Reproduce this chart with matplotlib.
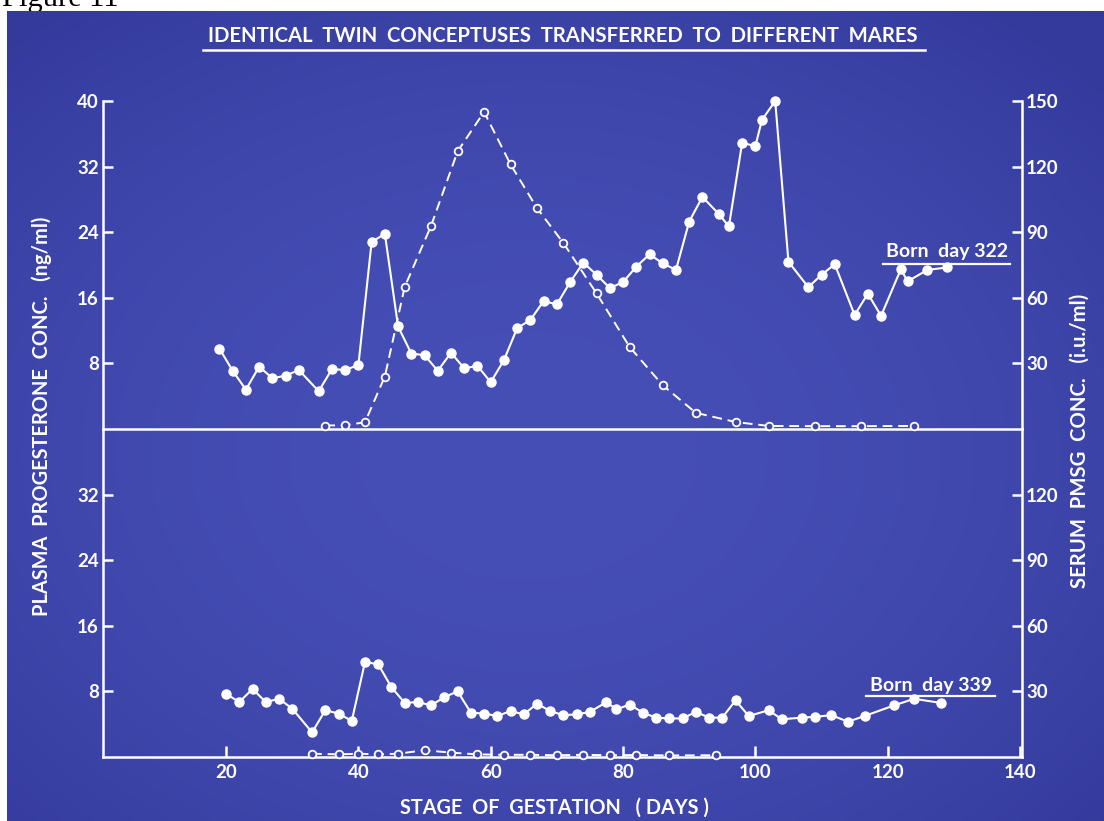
import numpy as np
import matplotlib as mpl
import matplotlib.pyplot as plt
from matplotlib.lines import Line2D

mpl.rcParams.update({
    "font.family": ["Lato", "DejaVu Sans"],
    "font.weight": "bold",
    "axes.linewidth": 1.8,
    "xtick.color": "white",
    "ytick.color": "white",
    "xtick.labelsize": 13.5,
    "ytick.labelsize": 13.5,
})

W, H = 1104, 821
SLIDE = (64, 72, 172)

# mare carrying twin A (born day 322)
top_prog_day = [19, 21, 23, 25, 27, 29, 31, 34, 36, 38, 40, 42, 44, 46, 48, 50, 52, 54, 56, 58,
                60, 62, 64, 66, 68, 70, 72, 74, 76, 78, 80, 82, 84, 86, 88, 90, 92, 94.5, 96, 98,
                100, 101, 103, 105, 108, 110, 112, 115, 117, 119, 122, 123, 126, 129]
top_prog = [9.8, 7.1, 4.8, 7.6, 6.2, 6.5, 7.2, 4.6, 7.3, 7.2, 7.8, 22.8, 23.8, 12.5, 9.2, 9.0,
            7.1, 9.3, 7.4, 7.7, 5.7, 8.4, 12.3, 13.3, 15.6, 15.2, 17.9, 20.3, 18.8, 17.2, 17.9,
            19.8, 21.3, 20.2, 19.4, 25.3, 28.3, 26.2, 24.7, 34.9, 34.5, 37.7, 40.0, 20.4, 17.3,
            18.8, 20.1, 13.9, 16.5, 13.8, 19.5, 18.0, 19.4, 19.7]
top_pmsg_day = [35, 38, 41, 44, 47, 51, 55, 59, 63, 67, 71, 76, 81, 86, 91, 97, 102, 109, 116, 124]
top_pmsg = [1.6, 1.7, 3.1, 24, 65, 93, 127, 145, 121, 101, 85, 62, 37.5, 20, 7.4, 3.2, 1.4, 1.3,
            1.3, 1.4]

# mare carrying twin B (born day 339)
bot_prog_day = [20, 22, 24, 26, 28, 30, 33, 35, 37, 39, 41, 43, 45, 47, 49, 51, 53, 55, 57, 59,
                61, 63, 65, 67, 69, 71, 73, 75, 77.5, 79, 81, 83, 85, 87, 89, 91, 93, 95, 97, 99,
                102, 104, 107, 109, 111.5, 114, 116.5, 121, 124, 128]
bot_prog = [7.7, 6.7, 8.3, 6.7, 7.1, 5.9, 3.0, 5.7, 5.3, 4.4, 11.6, 11.3, 8.5, 6.6, 6.7, 6.3,
            7.3, 8.0, 5.4, 5.3, 5.0, 5.6, 5.2, 6.5, 5.6, 5.1, 5.2, 5.5, 6.7, 5.8, 6.4, 5.4, 4.8,
            4.7, 4.7, 5.5, 4.8, 4.8, 6.9, 5.0, 5.7, 4.6, 4.8, 4.9, 5.1, 4.3, 5.0, 6.3, 7.1, 6.6]
bot_pmsg_day = [33, 37, 40, 43, 46, 50, 54, 58, 62, 66, 70, 74, 78, 82, 87, 94]
bot_pmsg = [1.5, 1.2, 1.5, 1.2, 1.5, 3.1, 2.0, 1.2, 1.0, 1.0, 0.8, 1.0, 0.8, 0.9, 0.7, 0.8]

prog_ticks = [8, 16, 24, 32, 40]
pmsg_ticks = [30, 60, 90, 120, 150]
day_ticks = [20, 40, 60, 80, 100, 120, 140]


def fx(x):
    return x / W


def fy(y):
    return 1 - y / H


fig = plt.figure(figsize=(W / 100, H / 100), dpi=100)
fig.patch.set_facecolor("white")

# caption of the page, its top runs off the sheet
fig.text(fx(2), fy(6), "Figure 11", family="Liberation Serif", fontsize=22,
         weight="normal", color="black", va="baseline", ha="left", zorder=-5)

# slide background, a little darker towards the corners
bg = fig.add_axes([fx(7), 0, 1 - fx(7), fy(11)], zorder=-1)
yy, xx = np.mgrid[-1:1:200j, -1:1:260j]
r2 = np.clip(((xx + 0.05) ** 2 + (yy - 0.1) ** 2) / 2, 0, 1)
center = np.array([70, 79, 182]) / 255
edge = np.array([52, 58, 156]) / 255
img = center[None, None, :] * (1 - r2[..., None]) + edge[None, None, :] * r2[..., None]
bg.imshow(img, aspect="auto", interpolation="bilinear")
bg.axis("off")

left, right = 103, 1022
ax_top = fig.add_axes([fx(left), fy(429), fx(right - left), 328 / H])
ax_bot = fig.add_axes([fx(left), fy(757), fx(right - left), 328 / H])

for ax, prog_day, prog, pmsg_day, pmsg, yt in [
        (ax_top, top_prog_day, top_prog, top_pmsg_day, top_pmsg, 5),
        (ax_bot, bot_prog_day, bot_prog, bot_pmsg_day, bot_pmsg, 4)]:
    axr = ax.twinx()
    for a in (ax, axr):
        a.set_facecolor("none")
        for s in a.spines.values():
            s.set_color("white")
            s.set_linewidth(1.8)
        a.spines["top"].set_visible(False)
    axr.spines["left"].set_visible(False)
    axr.spines["bottom"].set_visible(False)
    ax.spines["right"].set_visible(False)

    ax.set_xlim(1.4, 140.3)
    ax.set_ylim(0, 40)
    axr.set_ylim(0, 150)
    ax.set_yticks(prog_ticks[:yt])
    axr.set_yticks(pmsg_ticks[:yt])
    ax.tick_params(axis="y", direction="in", length=7, width=1.8, pad=3)
    axr.tick_params(axis="y", direction="in", length=7, width=1.8, pad=3)

    axr.plot(pmsg_day, pmsg, "--o", color="white", lw=1.4, dashes=(5, 3),
             ms=5.5, mfc=np.array(SLIDE) / 255, mec="white", mew=1.3, clip_on=False)
    ax.plot(prog_day, prog, "-o", color="white", lw=1.5, ms=6.5, clip_on=False, zorder=3)

ax_top.tick_params(axis="x", bottom=False, labelbottom=False)
ax_bot.set_xticks(day_ticks)
ax_bot.tick_params(axis="x", direction="in", length=8, width=1.8, pad=5)

txt = dict(color="white", weight="bold")
fig.text(fx(563), fy(36), "IDENTICAL  TWIN  CONCEPTUSES  TRANSFERRED  TO  DIFFERENT  MARES",
         fontsize=14.6, ha="center", va="center", **txt)
fig.add_artist(Line2D([fx(203), fx(925)], [fy(50), fy(50)], color="white", lw=1.8))

fig.text(fx(42), fy(416), "PLASMA  PROGESTERONE  CONC.   (ng/ml)", rotation=90,
         fontsize=14.4, ha="center", va="center", **txt)
fig.text(fx(1080), fy(441), "SERUM  PMSG  CONC.   (i.u./ml)", rotation=90,
         fontsize=14.6, ha="center", va="center", **txt)
fig.text(fx(554), fy(808), "STAGE  OF  GESTATION   ( DAYS )",
         fontsize=14.3, ha="center", va="center", **txt)

for label, x0, x1, y, yl in [("Born  day 322", 883, 1010, 252, 264),
                              ("Born  day 339", 866, 995, 685, 696)]:
    fig.text(fx((x0 + x1) / 2), fy(y), label, fontsize=14, ha="center", va="center", **txt)
    fig.add_artist(Line2D([fx(x0), fx(x1)], [fy(yl), fy(yl)], color="white", lw=1.6))

fig.savefig("out.png", dpi=100)
